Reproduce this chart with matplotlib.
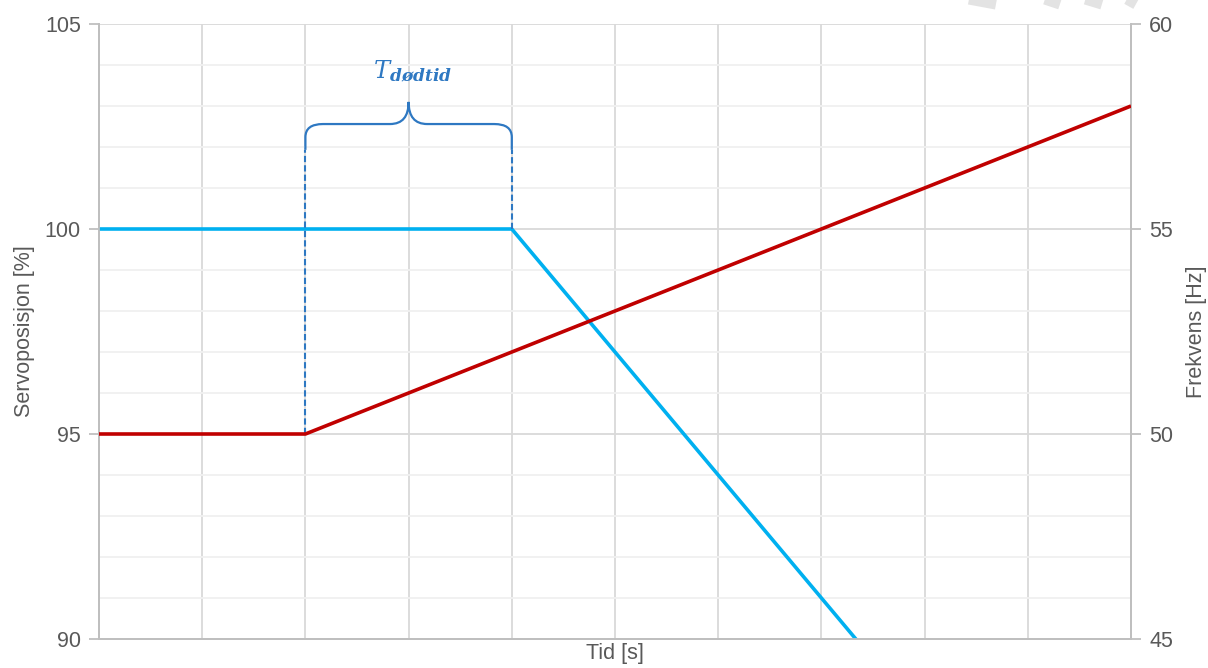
""" Servo position vs frequency with dead time marker """

import numpy as np
import matplotlib.pyplot as plt
from matplotlib.path import Path
from matplotlib.patches import PathPatch
from matplotlib.lines import Line2D

plt.rcParams['font.family'] = ['Liberation Sans', 'DejaVu Sans']
plt.rcParams['mathtext.fontset'] = 'dejavuserif'

# data
tid_servo = [0, 4, 10]
servo = [100, 100, 82]
tid_frekv = [0, 2, 10]
frekvens = [50, 50, 58]
t_start, t_slutt = 2, 4          # dead time interval
left_ticks = [90, 95, 100, 105]
right_ticks = [45, 50, 55, 60]

grey_txt = '#595959'
grid_major = '#D9D9D9'
grid_minor = '#F0F0F0'
brace_col = '#2E78C2'
fs = 15.5


def main():
    fig = plt.figure(figsize=(12.08, 6.68), dpi=100)
    ax = fig.add_axes([99 / 1208, 1 - 639 / 668, 1032 / 1208, 615 / 668])
    ax2 = ax.twinx()

    ax.set_xlim(0, 10)
    ax.set_ylim(90, 105)
    ax2.set_ylim(45, 60)

    ax.set_xticks(np.arange(0, 11, 1))
    ax.set_yticks(left_ticks)
    ax.set_yticks(np.arange(90, 106, 1), minor=True)
    ax2.set_yticks(right_ticks)

    ax.grid(True, axis='x', color=grid_major, lw=1.3)
    ax.grid(True, axis='y', which='major', color=grid_major, lw=1.3)
    ax.grid(True, axis='y', which='minor', color=grid_minor, lw=1.3)
    ax.set_axisbelow(True)

    for a in (ax, ax2):
        for s in a.spines.values():
            s.set_color('#BFBFBF')
            s.set_linewidth(1.3)
        a.spines['top'].set_visible(False)
    ax.tick_params(axis='x', length=0, labelbottom=False, pad=0)
    ax.tick_params(axis='y', which='major', length=7, color='#BFBFBF', width=1.3,
                   labelsize=fs, labelcolor=grey_txt, pad=6)
    ax.tick_params(axis='y', which='minor', length=0)
    ax2.tick_params(axis='y', length=7, color='#BFBFBF', width=1.3,
                    labelsize=fs, labelcolor=grey_txt, pad=6)

    ax.set_ylabel('Servoposisjon [%]', fontsize=fs, color=grey_txt, labelpad=7)
    ax2.set_ylabel('Frekvens [Hz]', fontsize=fs, color=grey_txt, labelpad=9)
    ax.set_xlabel('Tid [s]', fontsize=fs, color=grey_txt, labelpad=3)

    ax.plot(tid_servo, servo, color='#00B0F0', lw=2.6, zorder=3, solid_capstyle='butt')
    ax2.plot(tid_frekv, frekvens, color='#C00000', lw=2.6, zorder=3, solid_capstyle='butt')

    # dashed lines marking dead time
    y_bot = 101.93
    ax.plot([t_start, t_start], [95, y_bot], ls=(0, (3, 1.5)), color=brace_col, lw=1.5, zorder=4)
    ax.plot([t_slutt, t_slutt], [100, y_bot], ls=(0, (3, 1.5)), color=brace_col, lw=1.5, zorder=4)

    # curly brace
    mid = (t_start + t_slutt) / 2
    y_h, y_c, y_tip = 102.56, 102.24, 103.1
    dx, dxi = 0.17, 0.18
    verts = [
        (t_start, y_bot), (t_start, y_c),
        (t_start, y_h), (t_start + dx, y_h),
        (mid - dxi, y_h),
        (mid, y_h), (mid, y_tip),
        (mid, y_h), (mid + dxi, y_h),
        (t_slutt - dx, y_h),
        (t_slutt, y_h), (t_slutt, y_c),
        (t_slutt, y_bot),
    ]
    codes = [Path.MOVETO, Path.LINETO,
             Path.CURVE3, Path.CURVE3,
             Path.LINETO,
             Path.CURVE3, Path.CURVE3,
             Path.CURVE3, Path.CURVE3,
             Path.LINETO,
             Path.CURVE3, Path.CURVE3,
             Path.LINETO]
    ax.add_patch(PathPatch(Path(verts, codes), fill=False, ec=brace_col, lw=1.6, zorder=4))
    ax.text(mid + 0.04, 103.83, r'$T_{\mathbfit{dødtid}}$', color=brace_col, fontsize=17.5,
            ha='center', va='center', zorder=5)

    # faint watermark strokes at top edge
    for x0, w in [(960, 36), (1040, 20), (1080, 22), (1124, 12)]:
        fig.add_artist(Line2D([x0 / 1208, (x0 + w) / 1208], [1.004, 0.994],
                              transform=fig.transFigure, color='#E3E3E3', lw=8,
                              solid_capstyle='butt'))

    fig.savefig('out.png', dpi=100)
    plt.close()


if __name__ == '__main__':
    main()
